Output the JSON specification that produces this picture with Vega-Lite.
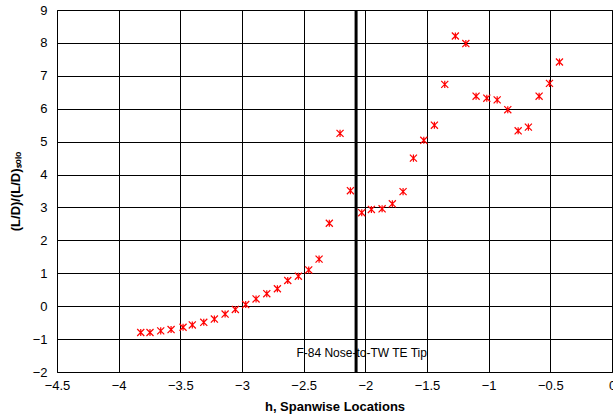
{
  "$schema": "https://vega.github.io/schema/vega-lite/v6.json",
  "width": 555,
  "height": 362,
  "autosize": "none",
  "padding": {"left": 57, "top": 10, "right": 1, "bottom": 46},
  "background": "white",
  "config": {
    "view": {"stroke": "black", "strokeWidth": 1},
    "font": "Liberation Sans",
    "axis": {
      "gridColor": "black", "gridOpacity": 1, "gridWidth": 1,
      "domain": false, "ticks": false, "labelOverlap": false,
      "labelFont": "Liberation Sans", "labelFontSize": 13, "labelColor": "black",
      "titleFont": "Liberation Sans", "titleFontSize": 13, "titleFontWeight": "bold", "titleColor": "black"
    }
  },
  "datasets": {
    "pts": [
      {"h": -3.821, "r": -0.80}, {"h": -3.746, "r": -0.80}, {"h": -3.659, "r": -0.75},
      {"h": -3.575, "r": -0.71}, {"h": -3.478, "r": -0.64}, {"h": -3.403, "r": -0.57},
      {"h": -3.310, "r": -0.49}, {"h": -3.224, "r": -0.39}, {"h": -3.137, "r": -0.24},
      {"h": -3.054, "r": -0.10}, {"h": -2.970, "r": 0.05}, {"h": -2.886, "r": 0.22},
      {"h": -2.799, "r": 0.38}, {"h": -2.713, "r": 0.53}, {"h": -2.629, "r": 0.78},
      {"h": -2.543, "r": 0.91}, {"h": -2.459, "r": 1.10}, {"h": -2.375, "r": 1.43},
      {"h": -2.292, "r": 2.52}, {"h": -2.205, "r": 5.25}, {"h": -2.121, "r": 3.51},
      {"h": -2.029, "r": 2.84}, {"h": -1.951, "r": 2.94}, {"h": -1.864, "r": 2.96},
      {"h": -1.781, "r": 3.11}, {"h": -1.694, "r": 3.48}, {"h": -1.610, "r": 4.50},
      {"h": -1.526, "r": 5.04}, {"h": -1.440, "r": 5.50}, {"h": -1.356, "r": 6.74},
      {"h": -1.270, "r": 8.21}, {"h": -1.185, "r": 7.98}, {"h": -1.102, "r": 6.38},
      {"h": -1.015, "r": 6.32}, {"h": -0.931, "r": 6.27}, {"h": -0.845, "r": 5.97},
      {"h": -0.761, "r": 5.33}, {"h": -0.678, "r": 5.44}, {"h": -0.591, "r": 6.38},
      {"h": -0.507, "r": 6.77}, {"h": -0.426, "r": 7.42}
    ],
    "line": [{"h": -2.075}],
    "note": [{"h": -2.03, "r": -1.42, "label": "F-84 Nose-to-TW TE Tip"}]
  },
  "layer": [
    {
      "data": {"name": "pts"},
      "mark": {"type": "point", "shape": "M-1,-1L1,1M-1,1L1,-1M0,-1L0,1", "stroke": "red", "strokeWidth": 1.2, "size": 50, "filled": false, "opacity": 1},
      "encoding": {
        "x": {"field": "h", "type": "quantitative", "title": "h, Spanwise Locations",
              "scale": {"domain": [-4.5, 0], "nice": false, "zero": false},
              "axis": {"values": [-4.5, -4, -3.5, -3, -2.5, -2, -1.5, -1, -0.5, 0], "format": "~g", "labelPadding": 7, "titlePadding": 8, "labelFlush": false}},
        "y": {"field": "r", "type": "quantitative", "title": "(L/D)/(L/D)ₛₒₗₒ",
              "scale": {"domain": [-2, 9], "nice": false, "zero": false},
              "axis": {"values": [-2, -1, 0, 1, 2, 3, 4, 5, 6, 7, 8, 9], "tickCount": 12, "labelPadding": 10, "titlePadding": 10, "labelFlush": false}}
      }
    },
    {
      "data": {"name": "line"},
      "mark": {"type": "rule", "color": "black", "strokeWidth": 3},
      "encoding": {
        "x": {"field": "h", "type": "quantitative", "title": "h, Spanwise Locations",
              "scale": {"domain": [-4.5, 0], "nice": false, "zero": false},
              "axis": {"values": [-4.5, -4, -3.5, -3, -2.5, -2, -1.5, -1, -0.5, 0], "format": "~g", "labelPadding": 7, "titlePadding": 8, "labelFlush": false}}
      }
    },
    {
      "data": {"name": "note"},
      "mark": {"type": "text", "fontSize": 12, "font": "Liberation Sans", "color": "black", "align": "center", "baseline": "middle"},
      "encoding": {
        "x": {"field": "h", "type": "quantitative", "title": "h, Spanwise Locations",
              "scale": {"domain": [-4.5, 0], "nice": false, "zero": false},
              "axis": {"values": [-4.5, -4, -3.5, -3, -2.5, -2, -1.5, -1, -0.5, 0], "format": "~g", "labelPadding": 7, "titlePadding": 8, "labelFlush": false}},
        "y": {"field": "r", "type": "quantitative", "title": "(L/D)/(L/D)ₛₒₗₒ",
              "scale": {"domain": [-2, 9], "nice": false, "zero": false},
              "axis": {"values": [-2, -1, 0, 1, 2, 3, 4, 5, 6, 7, 8, 9], "tickCount": 12, "labelPadding": 10, "titlePadding": 10, "labelFlush": false}},
        "text": {"field": "label"}
      }
    }
  ]
}
